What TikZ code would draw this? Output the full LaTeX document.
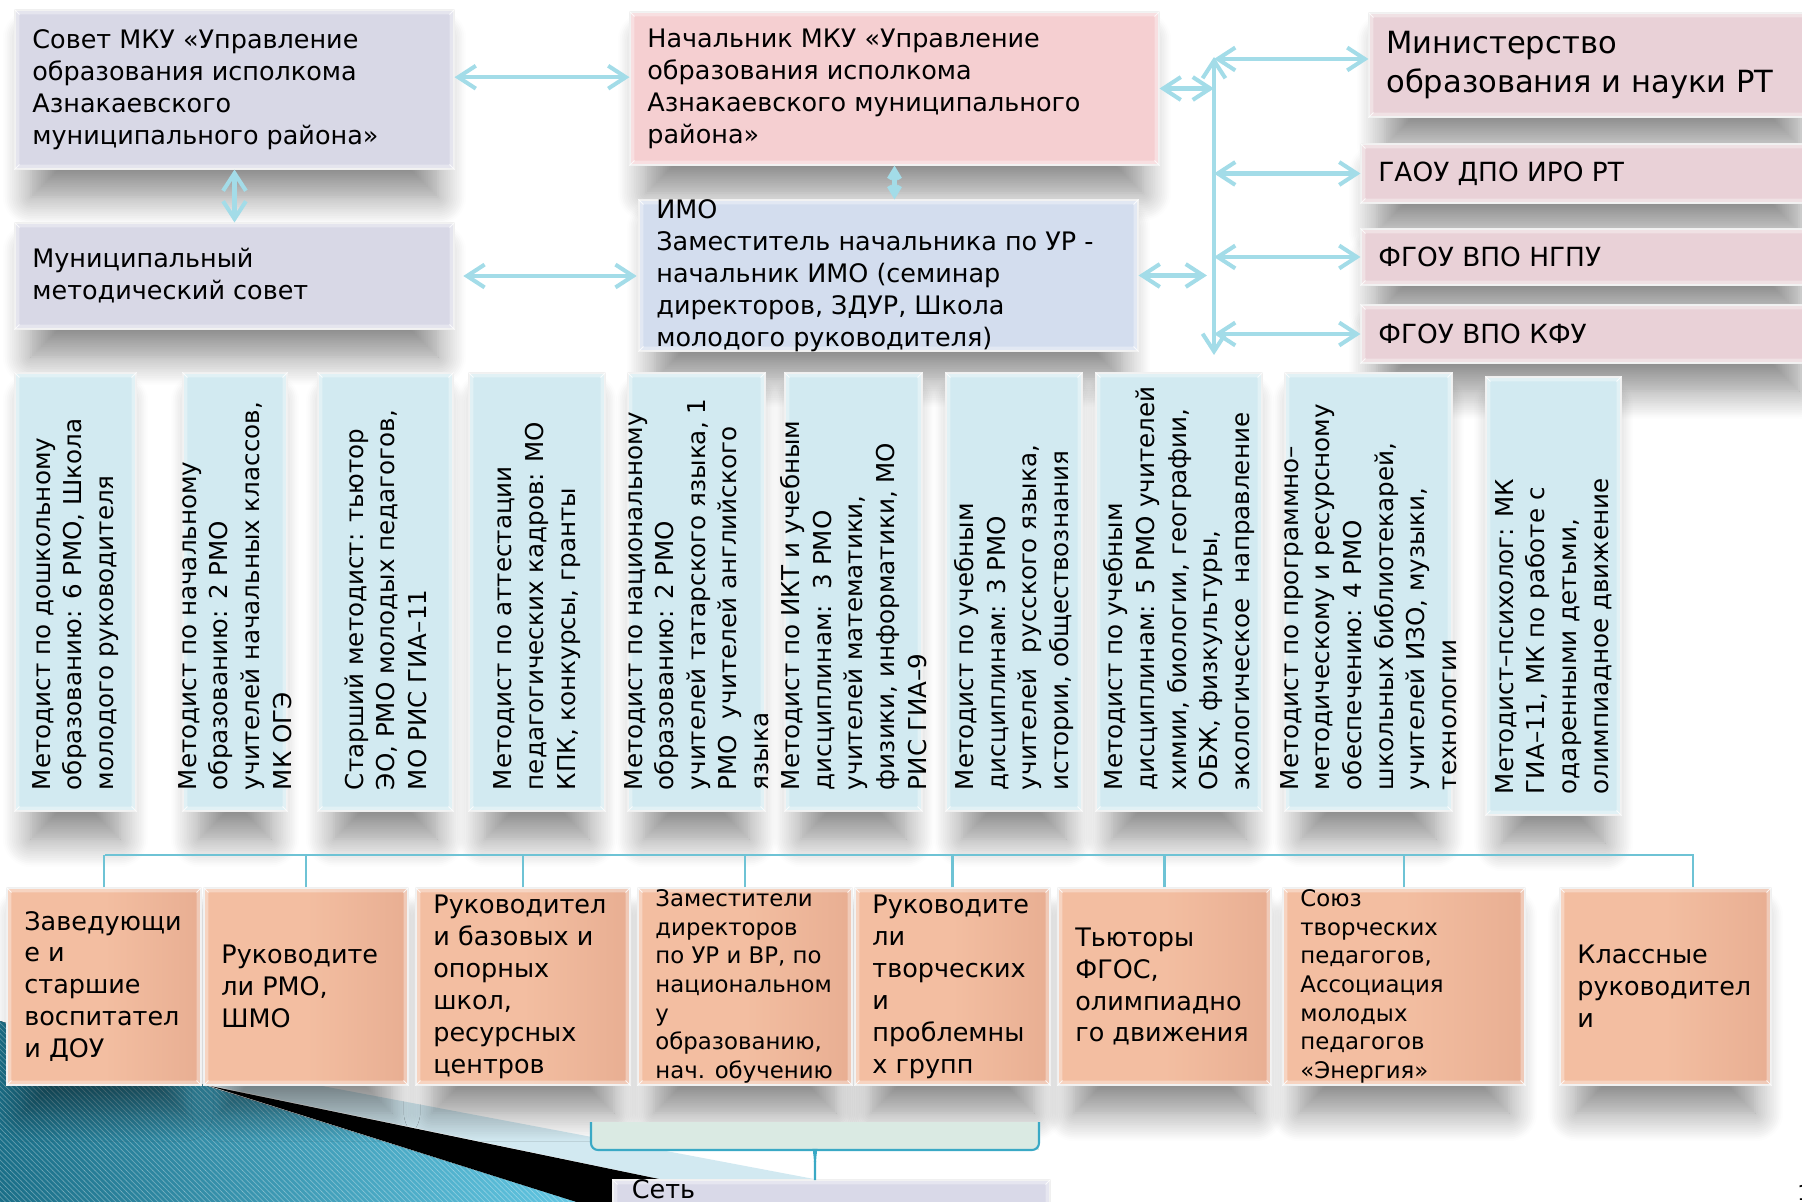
\documentclass[tikz,border=0pt]{standalone}
\usepackage{fontspec}
\setmainfont{DejaVu Sans}
\usetikzlibrary{arrows.meta,fit,shadows.blur,patterns}
\definecolor{lavbox}{RGB}{216,216,230}
\definecolor{chiefbox}{RGB}{245,207,209}
\definecolor{imobox}{RGB}{211,221,238}
\definecolor{extbox}{RGB}{233,209,215}
\definecolor{colbox}{RGB}{210,234,241}
\definecolor{peachbox}{RGB}{243,190,161}
\definecolor{peachdark}{RGB}{232,174,146}
\definecolor{arrowcol}{RGB}{163,220,232}
\definecolor{buscol}{RGB}{110,195,213}
\definecolor{bracecol}{RGB}{58,169,197}
\definecolor{bracefill}{RGB}{218,234,227}
\definecolor{netbox}{RGB}{217,217,232}
\definecolor{tealdark}{RGB}{27,111,136}
\definecolor{teallight}{RGB}{98,198,226}
\definecolor{paleband}{RGB}{210,233,241}
\pgfdeclarelayer{shadowlayer}
\pgfsetlayers{shadowlayer,main}
\newcommand{\bevel}[1]{
	\fill[white,opacity=.35,even odd rule] (#1.north west) rectangle (#1.south east) ([shift={(5,5)}]#1.north west) rectangle ([shift={(-5,-5)}]#1.south east);
	\draw[white,opacity=.8,line width=.5pt] (#1.north west) -- ++(5,5) (#1.north east) -- ++(-5,5) (#1.south west) -- ++(5,-5) (#1.south east) -- ++(-5,-5);}
\newcommand{\flatbox}[6]{
	\begin{pgfonlayer}{shadowlayer}\path[boxshadow] ([shift={(16,28)}]#3) rectangle ([shift={(-16,28)}]#4);\end{pgfonlayer}
	\node [boxbase,#2,fit={(#3) (#4)}] (#1) {};
	\bevel{#1}
	\node [boxtext,#5,anchor=west] at ([xshift=10pt]#1.west) {#6};}
\newcommand{\tallbox}[4]{
	\begin{pgfonlayer}{shadowlayer}\path[boxshadow] ([shift={(16,28)}]#2) rectangle ([shift={(-16,28)}]#3);\end{pgfonlayer}
	\node [boxbase,fill=colbox,fit={(#2) (#3)}] (#1) {};
	\bevel{#1}
	\node [coltext,rotate=90,anchor=west] at ([yshift=12pt]#1.south) {#4};}

\begin{document}
\begin{tikzpicture}[x=0.02cm,y=-0.02cm,
	>={Straight Barb[length=10pt,width=13pt]},
	boxbase/.style={inner sep=0pt,draw=white!85!gray,line width=.6pt},
	boxtext/.style={align=left,inner sep=0pt,font=\fontsize{14.5}{18.2}\selectfont},
	smalltext/.style={font=\fontsize{13}{16.3}\selectfont},
	bigtext/.style={font=\fontsize{17.4}{22}\selectfont},
	coltext/.style={align=left,inner sep=0pt,font=\fontsize{14}{18}\selectfont},
	peach/.style={left color=peachbox,right color=peachdark,middle color=peachbox},
	boxshadow/.style={blur shadow={shadow xshift=0pt,shadow yshift=0pt,shadow blur radius=16pt,shadow blur steps=16,shadow opacity=45}},
	conn/.style={<->,line width=2.3pt,draw=arrowcol},
	smallconn/.style={conn,line width=2.8pt,>={Straight Barb[length=5pt,width=6pt]}},
	bus/.style={line width=1.6pt,draw=buscol}]
	\useasboundingbox (0,0) rectangle (1802,1202);
	\begin{pgfonlayer}{shadowlayer}
	\fill[paleband] (210,1085) -- (317,1085) -- (830,1182) -- (830,1202) -- (770,1202) -- cycle;
	\fill[black] (210,1086) -- (770,1202) -- (576,1202) -- cycle;
	\fill[left color=tealdark,right color=teallight] (0,1021) -- (576,1202) -- (0,1202) -- cycle;
	\fill[pattern=north west lines,pattern color=white,opacity=.3] (0,1021) -- (576,1202) -- (0,1202) -- cycle;
	\end{pgfonlayer}

	\flatbox{sovet}{fill=lavbox}{15,10}{454,169}{}{Совет МКУ «Управление\\образования исполкома\\Азнакаевского\\муниципального района»}
	\flatbox{nach}{fill=chiefbox}{630,12}{1159,165}{}{Начальник МКУ «Управление\\образования исполкома\\Азнакаевского муниципального\\района»}
	\flatbox{mun}{fill=lavbox}{15,223}{454,329}{}{Муниципальный\\методический совет}
	\flatbox{imo}{fill=imobox}{639,200}{1138,351}{}{ИМО\\Заместитель начальника по УР -\\начальник ИМО (семинар\\директоров, ЗДУР, Школа\\молодого руководителя)}
	\flatbox{minis}{fill=extbox}{1369,13}{1815,117}{bigtext}{Министерство\\образования и науки РТ}
	\flatbox{gaou}{fill=extbox}{1361,144}{1815,203}{font=\fontsize{15}{18}\selectfont}{ГАОУ ДПО ИРО РТ}
	\flatbox{ngpu}{fill=extbox}{1361,229}{1815,285}{font=\fontsize{15}{18}\selectfont}{ФГОУ ВПО НГПУ}
	\flatbox{kfu}{fill=extbox}{1361,305}{1815,363}{font=\fontsize{15}{18}\selectfont}{ФГОУ ВПО КФУ}

	\tallbox{c1}{15,373}{136,811}{Методист по дошкольному\\образованию: 6 РМО, Школа\\молодого руководителя}
	\tallbox{c2}{183,373}{287,811}{Методист по начальному\\образованию: 2 РМО\\учителей начальных классов,\\МК ОГЭ}
	\tallbox{c3}{318,373}{453,811}{Старший методист: тьютор\\ЭО, РМО молодых педагогов,\\МО РИС ГИА–11}
	\tallbox{c4}{469,373}{605,811}{Методист по аттестации\\педагогических кадров: МО\\КПК, конкурсы, гранты}
	\tallbox{c5}{628,373}{765,811}{Методист по национальному\\образованию: 2 РМО\\учителей татарского языка, 1\\РМО\ \ учителей английского\\языка}
	\tallbox{c6}{785,373}{922,811}{Методист по ИКТ и учебным\\дисциплинам:\ \ 3 РМО\\учителей математики,\\физики, информатики, МО\\РИС ГИА–9}
	\tallbox{c7}{946,373}{1082,811}{Методист по учебным\\дисциплинам: 3 РМО\\учителей\ \ русского языка,\\истории, обществознания}
	\tallbox{c8}{1096,373}{1262,811}{Методист по учебным\\дисциплинам: 5 РМО учителей\\химии, биологии, географии,\\ОБЖ, физкультуры,\\экологическое\ \ направление}
	\tallbox{c9}{1285,373}{1452,811}{Методист по программно–\\методическому и ресурсному\\обеспечению: 4 РМО\\школьных библиотекарей,\\учителей ИЗО, музыки,\\технологии}
	\tallbox{c10}{1486,377}{1621,815}{Методист–психолог: МК\\ГИА–11, МК по работе с\\одаренными детьми,\\олимпиадное движение}

	\flatbox{b1}{peach}{7,888}{201,1085}{}{Заведующи\\е и\\старшие\\воспитател\\и ДОУ}
	\flatbox{b2}{peach}{204,888}{408,1085}{}{Руководите\\ли РМО,\\ШМО}
	\flatbox{b3}{peach}{416,888}{630,1085}{}{Руководител\\и базовых и\\опорных\\школ,\\ресурсных\\центров}
	\flatbox{b4}{peach}{638,888}{852,1085}{smalltext}{Заместители\\директоров\\по УР и ВР, по\\национальном\\у\\образованию,\\нач. обучению}
	\flatbox{b5}{peach}{855,888}{1050,1085}{}{Руководите\\ли\\творческих\\и\\проблемны\\х групп}
	\flatbox{b6}{peach}{1058,888}{1271,1085}{}{Тьюторы\\ФГОС,\\олимпиадно\\го движения}
	\flatbox{b7}{peach}{1283,888}{1525,1085}{smalltext}{Союз\\творческих\\педагогов,\\Ассоциация\\молодых\\педагогов\\«Энергия»}
	\flatbox{b8}{peach}{1560,888}{1771,1085}{}{Классные\\руководител\\и}

	\node [boxbase,fill=netbox,fit={(613,1180) (1050,1230)}] (net) {};
	\bevel{net}
	\node [boxtext,anchor=base west] at ([shift={(19,19)}]net.north west) {Сеть};
	\node [anchor=base west,inner sep=0pt,font=\fontsize{12}{14}\selectfont] (pagenum) at (1797,1200) {1};

	\fill[bracefill] (591,1122) rectangle (1039,1150);
	\draw[bracecol,line width=1.2pt] (591,1122) [rounded corners=4pt] -- (591,1150) -- (808,1150) [sharp corners] .. controls (813,1150) and (815,1155) .. (815,1162) -- (815,1180);
	\draw[bracecol,line width=1.2pt] (1039,1122) [rounded corners=4pt] -- (1039,1150) -- (822,1150) [sharp corners] .. controls (817,1150) and (815,1155) .. (815,1162);

	\coordinate (rtop) at (1214,57);
	\coordinate (rbot) at (1214,355);
	\coordinate (busl) at (105,855);
	\coordinate (busr) at (1693,855);
	\draw[conn] ([yshift=7pt]sovet.east) -- ([yshift=7pt]sovet.east -| nach.west);
	\draw[conn] (sovet.south) -- (sovet.south |- mun.north);
	\draw[conn] ([xshift=5pt]mun.east) -- ([xshift=-1pt]mun.east -| imo.west);
	\draw[smallconn] (nach.south) -- (nach.south |- imo.north);
	\draw[conn] (rbot) -- (rtop);
	\draw[conn] (nach.east) -- (nach.east -| rtop);
	\draw[conn] (imo.east) -- ([xshift=-4pt]imo.east -| rtop);
	\draw[conn] (minis.west |- 0,59) -- (rtop |- 0,59);
	\draw[conn] (gaou.west) -- (gaou.west -| rtop);
	\draw[conn] (ngpu.west) -- (ngpu.west -| rtop);
	\draw[conn] (kfu.west) -- (kfu.west -| rtop);

	\draw[bus] (busl) -- (busr) -- (busr |- b8.north);
	\foreach \b in {b1,b2,b3,b4,b5,b6,b7}
		\draw[bus] (\b.north) -- (\b.north |- busl);
\end{tikzpicture}
\end{document}
